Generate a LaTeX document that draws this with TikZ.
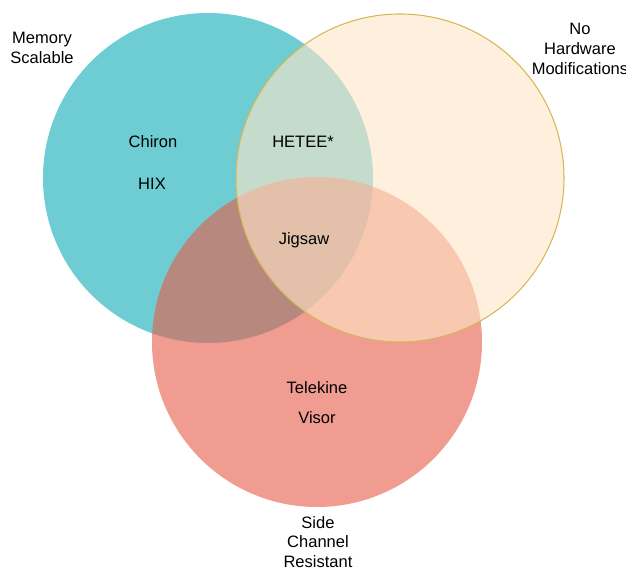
\documentclass[tikz,border=0pt]{standalone}
\usepackage{fontspec}
\setmainfont{Liberation Sans}
\usepackage{color}

\definecolor{memteal}{RGB}{110,205,211}
\definecolor{scred}{RGB}{232,90,70}
\definecolor{hwpeach}{RGB}{255,230,200}
\definecolor{hwgold}{RGB}{214,182,86}

\tikzset{
  label text/.style={align=center, font=\fontsize{9.4}{11.3}\selectfont, inner sep=1pt},
}

\begin{document}
\begin{tikzpicture}
\useasboundingbox (0,0) rectangle (12.52,11.38);

% draw circles
% 1 px of the sketch is 0.02 units
\fill[memteal] (4.16,7.82) circle (3.3);
\fill[scred, fill opacity=0.6] (6.34,4.54) circle (3.3);
\draw[hwgold, line width=0.6pt, fill=hwpeach, fill opacity=0.6] (8.0,7.82) circle (3.28);

% draw set names
\node[label text] (memory) at (0.84,10.42) {Memory\\Scalable};
\node[label text] (nohw) at (11.6,10.40) {No\\Hardware\\Modifications};
\node[label text] (sidech) at (6.36,0.54) {Side\\Channel\\Resistant};

% draw systems
\node[label text] (chiron) at (3.06,8.54) {Chiron};
\node[label text] (hix) at (3.04,7.70) {HIX};
\node[label text] (hetee) at (6.06,8.54) {HETEE*};
\node[label text] (jigsaw) at (6.08,6.58) {Jigsaw};
\node[label text] (telekine) at (6.34,3.62) {Telekine};
\node[label text] (visor) at (6.34,3.02) {Visor};

\end{tikzpicture}
\end{document}
